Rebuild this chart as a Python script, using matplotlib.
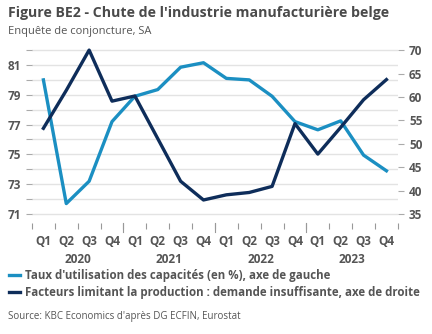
import numpy as np
import matplotlib.pyplot as plt
from matplotlib.lines import Line2D

plt.rcParams['font.family'] = ['Open Sans', 'DejaVu Sans']

quarters = ['Q1', 'Q2', 'Q3', 'Q4'] * 4
years = ['2020', '2021', '2022', '2023']

# taux d'utilisation des capacites (axe de gauche)
capacity = [80.0, 71.7, 73.2, 77.2, 78.9, 79.35, 80.85, 81.15,
            80.1, 80.0, 78.9, 77.2, 76.65, 77.25, 74.95, 73.9]
# facteurs limitant la production : demande insuffisante (axe de droite)
demand = [53.3, 61.4, 70.0, 59.1, 60.2, 51.1, 42.0, 38.0,
          39.1, 39.6, 40.9, 54.3, 47.8, 53.5, 59.4, 63.7]

light = '#1b8fc2'
navy = '#0e2d5a'
txt = '#555555'
grid = '#e3e3e3'

fig = plt.figure(figsize=(4.32, 3.34), dpi=100)
ax = fig.add_axes([0.074, 0.332, 0.847, 0.527])
ax2 = ax.twinx()

x = np.arange(len(capacity))
ax.plot(x, capacity, color=light, lw=2.4, zorder=3)
ax2.plot(x, demand, color=navy, lw=2.4, zorder=3)

ax.set_xlim(-0.5, 15.5)
ax.set_ylim(70.39, 82.2)
ax2.set_ylim(33.06, 70.64)

for a in (ax, ax2):
    for s in a.spines.values():
        s.set_visible(False)

ax.set_yticks(np.arange(71, 83))
ax.set_yticklabels([str(v) if v % 2 == 1 else '' for v in range(71, 83)])
ax.yaxis.grid(True, color=grid, lw=1)
ax.set_axisbelow(True)
ax.tick_params(axis='y', length=4, color='#aaaaaa', labelsize=8.5,
               labelcolor=txt, pad=4)
for lab in ax.get_yticklabels():
    lab.set_fontweight('bold')

ax2.set_yticks(np.arange(35, 71, 5))
ax2.tick_params(axis='y', length=4, color='#aaaaaa', labelsize=8.5,
                labelcolor=txt, pad=4)
for lab in ax2.get_yticklabels():
    lab.set_fontweight('bold')

# x axis: ticks at boundaries, labels centred
ax.set_xticks(np.arange(-0.5, 16, 1))
ax.set_xticklabels([])
ax.tick_params(axis='x', length=4, color='#999999')
for i, q in enumerate(quarters):
    ax.text(i, -0.07, q, transform=ax.get_xaxis_transform(), ha='center',
            va='top', fontsize=8.5, fontweight='bold', color=txt)
for j, yr in enumerate(years):
    ax.text(4 * j + 1.5, -0.17, yr, transform=ax.get_xaxis_transform(),
            ha='center', va='top', fontsize=8.5, fontweight='bold', color=txt)
for b in [3.5, 7.5, 11.5]:
    ax.plot([b, b], [0, -0.05], transform=ax.get_xaxis_transform(),
            color='#999999', lw=0.8, clip_on=False)

fig.text(0.018, 0.962, "Figure BE2 - Chute de l'industrie manufacturière belge",
         fontsize=10.2, fontweight='bold', color='#4a4a4a', va='center')
fig.text(0.018, 0.905, "Enquête de conjoncture, SA", fontsize=8,
         color=txt, va='center')

handles = [Line2D([], [], color=light, lw=2.4), Line2D([], [], color=navy, lw=2.4)]
labels = ["Taux d'utilisation des capacités (en %), axe de gauche",
          "Facteurs limitant la production : demande insuffisante, axe de droite"]
leg = fig.legend(handles, labels, loc='upper left', bbox_to_anchor=(0.01, 0.207),
                 frameon=False, handlelength=1.0, handletextpad=0.4,
                 labelspacing=0.3, borderaxespad=0,
                 prop={'size': 8.3, 'weight': 'bold'})
for t in leg.get_texts():
    t.set_color(txt)

fig.text(0.018, 0.052, "Source: KBC Economics d'après DG ECFIN, Eurostat",
         fontsize=7, color=txt, va='center')

fig.savefig('out.png', dpi=100)
